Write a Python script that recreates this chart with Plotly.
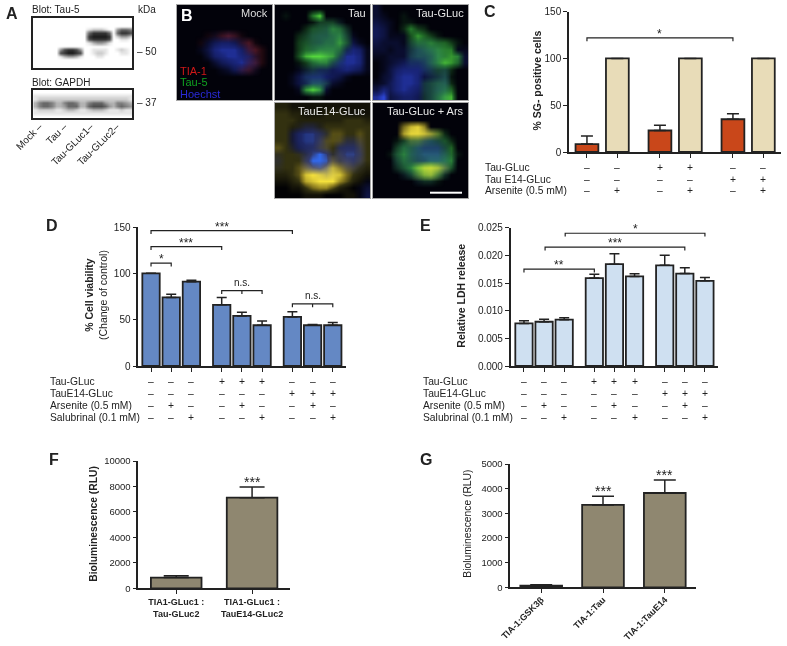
import plotly.graph_objects as go

W, H = 787, 646
INK = "#222222"
FONT = "Liberation Sans, Arial, sans-serif"

# ---------- Panel A blots (band darkness, 0-9) ----------
blot_tau = ["000000000000000000000000","000000000000000000000000","000000000000000000000000",
            "000000000000012221004665","000000000000068888606887","000000000000089999802442",
            "000000000000078888700110","000000000000013443100000","000000000000000000000000",
            "000000478874001111001210","000000789987001221000110","000000134431000110000000",
            "000000000000000000000000","000000000000000000000000","000000000000000000000000"]
blot_gapdh = ["000000000000000000000000","111111111111111111111111","122222222222222222222221",
              "356653356653356664335543","356653346663367776435654","122221123321123332111211",
              "111111111111111111111111","000000000000000000000000"]
lane_labels = ["Mock –", "Tau –", "Tau-GLuc1–", "Tau-GLuc2–"]
lane_pos = [1.0, 7.0, 13.4, 19.7]

# ---------- Panel B micrographs (channel intensity, 0-9) ----------
mock_blue = ["00000000000000","00000000000000","00000000000000","00000000000000","00000112100000","00002455421000",
             "00013677753100","00002567765200","00000245675300","00000012442100","00000000000000","00000000000000","00000000000000","00000000000000"]
mock_red = ["00000000000000","00000000000000","00000000000000","00000000000000","00001134310000","00010000024100",
            "00000000003420","00000000001220","00000000002320","00000000023100","00000000000000","00000000000000","00000000000000","00000000000000"]
tau_blue = ["00000000000000","00000000000000","00000011110000","00000123321000","00001344442100","00001344432310",
            "00001344434651","00001344347761","00000233467761","00012344456541","00135665431000","00134664210000","00012342000000","00000000000000"]
tau_green = ["00000000000000","01000690000000","00000133310000","00002444652000","00023444563000","00034445574000",
             "00035566651000","00048998730000","00013566310000","00001211000000","00001110000000","00001332000000","00007970000000","00000110000000"]
gluc_blue = ["20000000000000","21000000000000","32100000000000","43100000000000","43111000000000","32221233210000",
             "22122355541011","11222455552022","01234555541012","01356665423000","02367763334000","12467763345000","36467653355000","79345542345000"]
gluc_green = ["00000000000000","00001000000000","00001100000000","00002632000000","00000475310000","00000355655310",
              "00000234566600","00000233466760","00000112468750","00000001233200","00000000123100","00000002344200","00000002345500","00000002357800"]
e14_blue = ["00000000000000","00000000000000","00000000000000","00013310000000","00367752000000","00367751013320",
            "00256642056640","10014797257750","20005998346640","10003675113310","00000012100000","00000000000001","00000000000013","00000000000014"]
e14_yellow = ["22111111111111","33221112221111","33322222223332","33222223333333","33112333443343","33112344443343",
              "43212344333343","33333444344443","33334556545443","33346899865432","22348999985321","11237899964210","00113566421000","00001110001100"]
ars_blue = ["00000000000000","00000000000000","00000000000000","00000000000000","00000012210000","00001345531000",
            "00013466663000","00023567775100","00023456776200","00012345665100","00001233431000","00000011100000","00000000000000","00000000000000"]
ars_green = ["00000000000000","00000000000000","00000000000000","00000000000000","00000342342000","00013443334200",
             "00035432223500","00146433334510","00035433445600","00024689974400","00001357752000","00000012210000","00000000000000","00000000000000"]
ars_yellow = ["00000000000000","00000000000000","00000000000000","00005896000000","00007998630000","00000221000000",
              "00000000000000","00000000000000","00000000000000","00000036763000","00000024520000","00000000000000","00000000000000","00000000000000"]

# ---------- Panel C ----------
c_x = [0, 1, 2.4, 3.4, 4.8, 5.8]
c_val = [8.5, 100, 23, 100, 35, 100]
c_err = [8.5, 0, 5.5, 0, 6, 0]
c_colors = ["#c9471a", "#e8dcb8", "#c9471a", "#e8dcb8", "#c9471a", "#e8dcb8"]
c_rows = {"Tau-GLuc": "––++––", "Tau E14-GLuc": "––––++", "Arsenite (0.5 mM)": "–+–+–+"}

# ---------- Panel D ----------
d_x = [0, 1, 2, 3.5, 4.5, 5.5, 7, 8, 9]
d_val = [100, 74, 91, 66, 54, 44, 53, 44, 44]
d_err = [0, 3.3, 1.5, 8, 4, 4.5, 5.5, 0.7, 3]
# ---------- Panel E ----------
e_x = [0, 1, 2, 3.5, 4.5, 5.5, 7, 8, 9]
e_val = [0.0077, 0.0080, 0.00837, 0.0159, 0.0184, 0.0162, 0.0182, 0.0167, 0.0154]
e_err = [0.0005, 0.00043, 0.00036, 0.0007, 0.0019, 0.00048, 0.0018, 0.00106, 0.0006]
de_rows = {"Tau-GLuc": "–––+++–––", "TauE14-GLuc": "––––––+++",
           "Arsenite (0.5 mM)": "–+––+––+–", "Salubrinal (0.1 mM)": "––+––+––+"}
# ---------- Panel F ----------
f_labels = ["<b>TIA1-GLuc1 :<br>Tau-GLuc2</b>", "<b>TIA1-GLuc1 :<br>TauE14-GLuc2</b>"]
f_val = [840, 7120]
f_err = [155, 840]
# ---------- Panel G ----------
g_labels = ["<b>TIA-1:GSK3β</b>", "<b>TIA-1:Tau</b>", "<b>TIA-1:TauE14</b>"]
g_val = [68, 3340, 3825]
g_err = [40, 350, 525]

# brackets: x0, x1, y, label, has middle tick
c_br = [(0, 4.8, 122, "*", False)]
d_br = [(0, 1, 111, "*", False), (0, 3.5, 128.8, "***", False), (0, 7, 146, "***", False),
        (3.5, 5.5, 81.3, "n.s.", True), (7, 9, 67, "n.s.", True)]
e_br = [(0, 3.5, 0.01752, "**", False), (1.05, 8, 0.0215, "***", False), (2.05, 9, 0.0240, "*", False)]

fig = go.Figure()
layout = {}
ann = []
shapes = []
count = [0]


def px(x): return x / W
def py(y): return 1 - y / H


def txt(x, y, s, size=10, color=INK, xa="left", ya="middle", angle=0, xref="paper", yref="paper"):
    ann.append(dict(text=s, x=x, y=y, xref=xref, yref=yref, xanchor=xa, yanchor=ya, textangle=angle,
                    showarrow=False, font=dict(size=size, color=color), borderpad=0, borderwidth=0))


def new_axes(l, r, t, b, xopt, yopt):
    count[0] += 1
    n = count[0]
    sx = "" if n == 1 else str(n)
    layout["xaxis" + sx] = dict(domain=[px(l), px(r)], anchor="y" + sx, automargin=False, **xopt)
    layout["yaxis" + sx] = dict(domain=[py(b), py(t)], anchor="x" + sx, automargin=False, **yopt)
    return "x" + sx, "y" + sx


def digits(rows, width):
    return [[int(c) for c in r.ljust(width, "0")[:width]] for r in rows]


def blot(rows, l, r, t, b, ticks=None, labels=None):
    ncol, nrow = 24, len(rows)
    xo = dict(range=[-0.5, ncol - 0.5], showgrid=False, zeroline=False, showline=True, mirror=True,
              linecolor=INK, linewidth=1.5, ticks="", showticklabels=False)
    if ticks:
        xo.update(tickmode="array", tickvals=ticks, ticktext=labels, showticklabels=True, tickangle=-45,
                  tickfont=dict(size=10, color=INK), ticklabelstandoff=-3)
    yo = dict(range=[nrow - 0.5, -0.5], showgrid=False, zeroline=False, showline=True, mirror=True,
              linecolor=INK, linewidth=1.5, ticks="", showticklabels=False)
    xa, ya = new_axes(l, r, t, b, xo, yo)
    fig.add_trace(go.Heatmap(z=digits(rows, ncol), xaxis=xa, yaxis=ya, zmin=0, zmax=9, zsmooth="best",
                             showscale=False, hoverinfo="skip",
                             colorscale=[[0, "#ffffff"], [1, "#1c1c1c"]]))


def tile(l, t, layers):
    r, b = l + 95, t + 95
    opt = dict(showgrid=False, zeroline=False, showline=True, mirror=True, linecolor="#a8a8a8", linewidth=1,
               ticks="", showticklabels=False)
    xa, ya = new_axes(l, r, t, b, dict(range=[-0.5, 13.5], **opt), dict(range=[13.5, -0.5], **opt))
    for rows, scale in layers:
        fig.add_trace(go.Heatmap(z=digits(rows, 14), xaxis=xa, yaxis=ya, zmin=0, zmax=9, zsmooth="best",
                                 showscale=False, hoverinfo="skip", colorscale=scale))


BLUE = [[0, "rgb(2,2,10)"], [0.7, "rgb(26,38,125)"], [1, "rgb(45,70,215)"]]
GREEN = [[0, "rgba(50,170,60,0)"], [0.6, "rgba(55,180,60,0.6)"], [1, "rgba(90,225,60,0.95)"]]
RED = [[0, "rgba(150,40,40,0)"], [1, "rgba(215,50,50,0.9)"]]
YELLOW = [[0, "rgba(215,195,40,0)"], [1, "rgba(240,220,60,0.95)"]]
HAZE = [[0, "rgb(2,2,4)"], [0.33, "rgb(50,48,16)"], [0.6, "rgb(135,120,30)"], [1, "rgb(245,225,60)"]]
NUCLEI = [[0, "rgba(30,40,150,0)"], [0.7, "rgba(32,46,140,0.7)"], [1, "rgba(50,105,235,1)"]]


def chart(l, r, t, b, xs, vals, errs, colors, xr, yr, dtick, barw, capw, xtick_labels=None, yfmt=None,
          ticksize=10, tickangle=None):
    axis = dict(showgrid=False, zeroline=False, showline=True, linecolor=INK, linewidth=1.5, ticks="outside",
                ticklen=4, tickwidth=1.3, tickcolor=INK)
    xo = dict(range=xr, tickmode="array", tickvals=xs, **axis)
    if xtick_labels:
        xo.update(ticktext=xtick_labels, tickfont=dict(size=9, color=INK))
        if tickangle is not None:
            xo["tickangle"] = tickangle
            xo["ticklabelstandoff"] = -2
    else:
        xo["showticklabels"] = False
    yo = dict(range=yr, dtick=dtick, tickfont=dict(size=ticksize, color=INK), **axis)
    yo["tickformat"] = yfmt or "d"
    xa, ya = new_axes(l, r, t, b, xo, yo)
    fig.add_trace(go.Bar(x=xs, y=vals, width=barw, xaxis=xa, yaxis=ya, hoverinfo="skip",
                         marker=dict(color=colors, line=dict(color=INK, width=1.8)),
                         error_y=dict(type="data", symmetric=False, array=errs, arrayminus=[0] * len(errs),
                                      color=INK, thickness=1.5, width=capw)))
    return xa, ya


def brackets(xa, ya, items, drop, size=12):
    for x0, x1, y, label, mid in items:
        xs = [x0, x0, x1, x1]
        ys = [y - drop, y, y, y - drop]
        fig.add_trace(go.Scatter(x=xs, y=ys, xaxis=xa, yaxis=ya, mode="lines", hoverinfo="skip",
                                 line=dict(color=INK, width=1.2)))
        if mid:
            c = (x0 + x1) / 2
            fig.add_trace(go.Scatter(x=[c, c], y=[y, y - drop], xaxis=xa, yaxis=ya, mode="lines", hoverinfo="skip",
                                     line=dict(color=INK, width=1.2)))
        ns = label == "n.s."
        ann.append(dict(text=label, x=(x0 + x1) / 2, y=y, xref=xa, yref=ya, yanchor="bottom", xanchor="center",
                        showarrow=False, font=dict(size=(10 if ns else size), color=INK), yshift=(1 if ns else -5)))


def table(xa, xs, rows, ys, left):
    for (name, signs), y in zip(rows.items(), ys):
        txt(px(left), py(y), name, size=10.3)
        for xv, s in zip(xs, signs):
            txt(xv, py(y), s, size=10.3, xa="center", xref=xa)


# ----- A -----
blot(blot_tau, 33.3, 132, 17.7, 67.7)
blot(blot_gapdh, 33.3, 132, 90, 118.3, lane_pos, lane_labels)
txt(px(6), py(13), "<b>A</b>", size=16)
txt(px(32.3), py(10), "Blot: Tau-5")
txt(px(138), py(10), "kDa")
txt(px(137), py(51.7), "– 50")
txt(px(32.3), py(82), "Blot: GAPDH")
txt(px(137), py(102.7), "– 37")

# ----- B -----
tile(177, 5, [(mock_blue, BLUE), (mock_red, RED)])
tile(275, 5, [(tau_blue, BLUE), (tau_green, GREEN)])
tile(373, 5, [(gluc_blue, BLUE), (gluc_green, GREEN)])
tile(275, 103, [(e14_yellow, HAZE), (e14_blue, NUCLEI)])
tile(373, 103, [(ars_blue, BLUE), (ars_green, GREEN), (ars_yellow, YELLOW)])
txt(px(180.5), py(16), "<b>B</b>", size=16, color="#ffffff")
txt(px(267.7), py(13), "Mock", size=11, color="#dddddd", xa="right")
txt(px(365.7), py(13), "Tau", size=11, color="#e8e8e8", xa="right")
txt(px(463.7), py(13), "Tau-GLuc", size=11, color="#e8e8e8", xa="right")
txt(px(365.7), py(111), "TauE14-GLuc", size=11, color="#e8e8e8", xa="right")
txt(px(463.7), py(111), "Tau-GLuc + Ars", size=11, color="#e8e8e8", xa="right")
txt(px(180), py(70.7), "TIA-1", size=11, color="#d01818")
txt(px(180), py(82), "Tau-5", size=11, color="#10a020")
txt(px(180), py(94), "Hoechst", size=11, color="#2a2ad8")
shapes.append(dict(type="line", xref="paper", yref="paper", x0=px(430), x1=px(462), y0=py(192.7), y1=py(192.7),
                   line=dict(color="#ffffff", width=2)))

# ----- C -----
xa, ya = chart(569, 781, 11.7, 152, c_x, c_val, c_err, c_colors, [-0.59, 6.38], [0, 150], 50, 0.75, 6)
brackets(xa, ya, c_br, 3.5)
table(xa, c_x, c_rows, [167, 179, 190], 485)
txt(px(484), py(12), "<b>C</b>", size=16)
txt(px(536), py(80.5), "<b>% SG- positive cells</b>", size=10.5, xa="center", angle=-90)

# ----- D -----
xa, ya = chart(138.3, 345.7, 227, 366, d_x, d_val, d_err, "#6488c4", [-0.63, 9.64], [0, 150], 50, 0.86, 5)
brackets(xa, ya, d_br, 3.5)
table(xa, d_x, de_rows, [381.7, 393.3, 405, 417], 50)
txt(px(46), py(225), "<b>D</b>", size=16)
txt(px(96.5), py(295.5), "<b>% Cell viability</b><br>(Change of control)", size=10.5, xa="center", angle=-90)

# ----- E -----
xa, ya = chart(510.7, 718, 227.7, 366, e_x, e_val, e_err, "#cfe0f1", [-0.66, 9.65], [0, 0.025], 0.005, 0.86, 5,
               yfmt=".3f")
brackets(xa, ya, e_br, 0.0006)
table(xa, e_x, de_rows, [381.7, 393.3, 405, 417], 422.7)
txt(px(420), py(225), "<b>E</b>", size=16)
txt(px(460.7), py(296), "<b>Relative LDH release</b>", size=10.5, xa="center", angle=-90)

# ----- F -----
xa, ya = chart(138.3, 290, 461, 588.3, [0, 1], f_val, f_err, "#8f8770", [-0.5, 1.5], [0, 10000], 2000, 0.667, 12.5,
               xtick_labels=f_labels, ticksize=9.5)
txt(px(49), py(459), "<b>F</b>", size=16)
txt(px(94), py(523.7), "<b>Bioluminescence (RLU)</b>", size=10.3, xa="center", angle=-90)
ann.append(dict(text="***", x=1, y=f_val[1] + f_err[1], xref=xa, yref=ya, yanchor="bottom", showarrow=False,
                font=dict(size=14, color=INK), yshift=-5))

# ----- G -----
xa, ya = chart(510.3, 695.7, 464, 587.3, [0, 1, 2], g_val, g_err, "#8f8770", [-0.5, 2.5], [0, 5000], 1000, 0.675, 11,
               xtick_labels=g_labels, ticksize=9.5, tickangle=-45)
txt(px(420), py(459), "<b>G</b>", size=16)
txt(px(466.7), py(524), "Bioluminescence (RLU)", size=10.3, xa="center", angle=-90)
for i in (1, 2):
    ann.append(dict(text="***", x=i, y=g_val[i] + g_err[i], xref=xa, yref=ya, yanchor="bottom", showarrow=False,
                    font=dict(size=14, color=INK), yshift=-5))

fig.update_layout(width=W, height=H, margin=dict(l=0, r=0, t=0, b=0, autoexpand=False), paper_bgcolor="white",
                  plot_bgcolor="white", showlegend=False, font=dict(family=FONT, color=INK),
                  annotations=ann, shapes=shapes, **layout)
fig.write_html("out.html", config={"displayModeBar": False},
               post_script="document.body.style.margin='0';document.documentElement.style.overflow='hidden';"
                           "document.querySelectorAll('.main-svg').forEach(function(s){s.style.willChange='transform';});")
